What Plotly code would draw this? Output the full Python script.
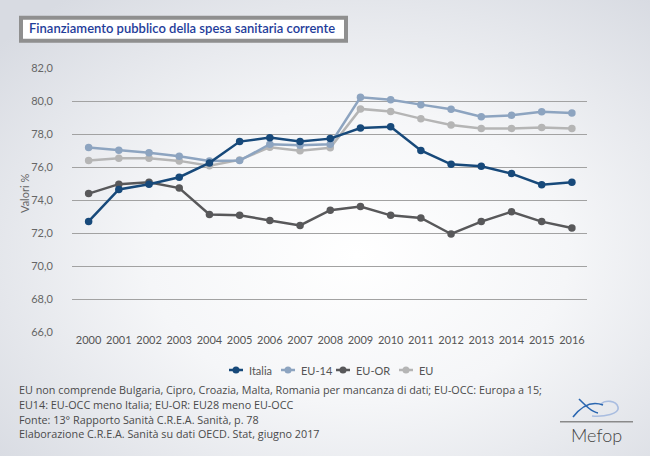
import base64
import plotly.graph_objects as go

years = [2000, 2001, 2002, 2003, 2004, 2005, 2006, 2007, 2008,
         2009, 2010, 2011, 2012, 2013, 2014, 2015, 2016]
year_labels = [str(y) for y in years]

italia = [72.70, 74.64, 74.96, 75.38, 76.25, 77.54, 77.78, 77.54, 77.72,
          78.36, 78.44, 77.00, 76.16, 76.04, 75.60, 74.93, 75.07]
eu14 = [77.18, 77.02, 76.87, 76.65, 76.37, 76.39, 77.38, 77.32, 77.38,
        80.22, 80.08, 79.78, 79.50, 79.05, 79.13, 79.35, 79.27]
eu_or = [74.39, 74.96, 75.08, 74.72, 73.12, 73.08, 72.76, 72.46, 73.38,
         73.60, 73.07, 72.91, 71.94, 72.69, 73.29, 72.69, 72.30]
eu = [76.39, 76.53, 76.53, 76.37, 76.07, 76.43, 77.20, 76.98, 77.16,
      79.52, 79.37, 78.93, 78.55, 78.34, 78.34, 78.40, 78.34]

series_names = ["Italia", "EU-14", "EU-OR", "EU"]
series_colors = ["#17497a", "#8da4c0", "#58585a", "#b5b5b5"]
y_ticks = [66, 68, 70, 72, 74, 76, 78, 80, 82]

title_text = "Finanziamento pubblico della spesa sanitaria corrente"
y_title = "Valori %"
footnote_lines = [
    "EU non comprende Bulgaria, Cipro, Croazia, Malta, Romania per mancanza di dati; EU-OCC: Europa a 15;",
    "EU14: EU-OCC meno Italia; EU-OR: EU28 meno EU-OCC",
    "Fonte: 13° Rapporto Sanità C.R.E.A. Sanità, p. 78",
    "Elaborazione C.R.E.A. Sanità su dati OECD. Stat, giugno 2017",
]
logo_text = "Mefop"

W, H = 650, 456
L, R, T, B = 72, 63, 68, 124
PW, PH = W - L - R, H - T - B


def px(x):
    return (x - L) / PW


def py(y):
    return (H - B - y) / PH


# background gradient + logo drawing (decorative, no text)
svg = f'''<svg xmlns="http://www.w3.org/2000/svg" width="{W}" height="{H}" viewBox="0 0 {W} {H}">
<defs><radialGradient id="g" cx="0.55" cy="0.56" r="0.72">
<stop offset="0" stop-color="#ffffff"/><stop offset="0.45" stop-color="#f5f6f8"/>
<stop offset="1" stop-color="#d8dbe2"/></radialGradient></defs>
<rect x="0" y="0" width="{W}" height="{H}" fill="url(#g)"/>
<path d="M592 416 C604 417 620 414 618 407 C616 400 605 400 601 404" fill="none" stroke="#a9bde0" stroke-width="1.6"/>
<path d="M579 399 C586 406 592 412 598 413" fill="none" stroke="#2a66b0" stroke-width="1.6"/>
<path d="M573 417 C580 408 590 400 603 405" fill="none" stroke="#2a66b0" stroke-width="1.6"/>
</svg>'''
svg_uri = "data:image/svg+xml;base64," + base64.b64encode(svg.encode()).decode()

fig = go.Figure()
data = [italia, eu14, eu_or, eu]
draw_order = [3, 1, 2, 0]
for i in draw_order:
    fig.add_trace(go.Scatter(
        x=years, y=data[i], name=series_names[i], mode="lines+markers",
        line=dict(color=series_colors[i], width=2.5),
        marker=dict(color=series_colors[i], size=7.5),
        showlegend=False,
    ))

shapes = [
    dict(type="rect", xref="paper", yref="paper",
         x0=px(21), x1=px(346), y0=py(17.7), y1=py(40.7),
         fillcolor="white", line=dict(color="#8f8f8f", width=4), layer="above"),
    dict(type="line", xref="paper", yref="paper",
         x0=px(560), x1=px(633), y0=py(421.7), y1=py(421.7),
         line=dict(color="#8a8a8a", width=1.5)),
]

annotations = [
    dict(text=title_text, xref="paper", yref="paper", x=px(26.5), y=py(28.5),
         xanchor="left", yanchor="middle", showarrow=False,
         font=dict(family="Lato", size=13, color="#1f3d9a", weight=600)),
    dict(text=y_title, xref="paper", yref="paper", x=px(24), y=py(194),
         xanchor="center", yanchor="middle", textangle=-90, showarrow=False,
         font=dict(family="Lato", size=11, color="#666666")),
    dict(text=logo_text, xref="paper", yref="paper", x=px(596.5), y=py(434.5),
         xanchor="center", yanchor="middle", showarrow=False,
         font=dict(family="Lato", size=18, color="#444444", weight=300)),
]

# footnote lines
for k, line in enumerate(footnote_lines):
    annotations.append(dict(
        text=line, xref="paper", yref="paper", x=px(17), y=py(389 + 15 * k),
        xanchor="left", yanchor="middle", showarrow=False,
        font=dict(family="Open Sans", size=10.8, color="#4a4a4a")))

# compact legend (symbol: short line + dot, then label)
legend_x = [229, 281, 336, 399]
legend_y = 370
for name, color, lx in zip(series_names, series_colors, legend_x):
    shapes.append(dict(type="line", xref="paper", yref="paper",
                       x0=px(lx), x1=px(lx + 14), y0=py(legend_y), y1=py(legend_y),
                       line=dict(color=color, width=2.5)))
    shapes.append(dict(type="circle", xref="paper", yref="paper",
                       xsizemode="pixel", ysizemode="pixel",
                       xanchor=px(lx + 7), yanchor=py(legend_y),
                       x0=-3.5, x1=3.5, y0=-3.5, y1=3.5,
                       fillcolor=color, line=dict(width=0)))
    annotations.append(dict(
        text=name, xref="paper", yref="paper", x=px(lx + 18), y=py(legend_y),
        xanchor="left", yanchor="middle", showarrow=False,
        font=dict(family="Lato", size=11, color="#555555")))

fig.update_layout(
    width=W, height=H,
    margin=dict(l=L, r=R, t=T, b=B, pad=0),
    paper_bgcolor="#e9ebef",
    plot_bgcolor="rgba(0,0,0,0)",
    separators=",.",
    font=dict(family="Lato", size=11, color="#555555"),
    showlegend=False,
    xaxis=dict(range=[1999.45, 2016.5], tickvals=years, ticktext=year_labels,
               showgrid=False, zeroline=False, showline=False, ticks="",
               tickfont=dict(size=11, color="#555555"), fixedrange=True),
    yaxis=dict(range=[66, 82], tickvals=y_ticks, tickformat=".1f",
               showgrid=True, gridcolor="#a2a2a2", gridwidth=1,
               zeroline=False, showline=False, ticks="outside", ticklen=16,
               tickcolor="rgba(0,0,0,0)",
               tickfont=dict(size=11, color="#666666"), fixedrange=True),
    shapes=shapes,
    annotations=annotations,
    images=[dict(source=svg_uri, xref="paper", yref="paper",
                 x=px(0), y=py(0), sizex=W / PW, sizey=H / PH,
                 xanchor="left", yanchor="top", sizing="stretch",
                 layer="below")],
)

fig.write_html("out.html")
